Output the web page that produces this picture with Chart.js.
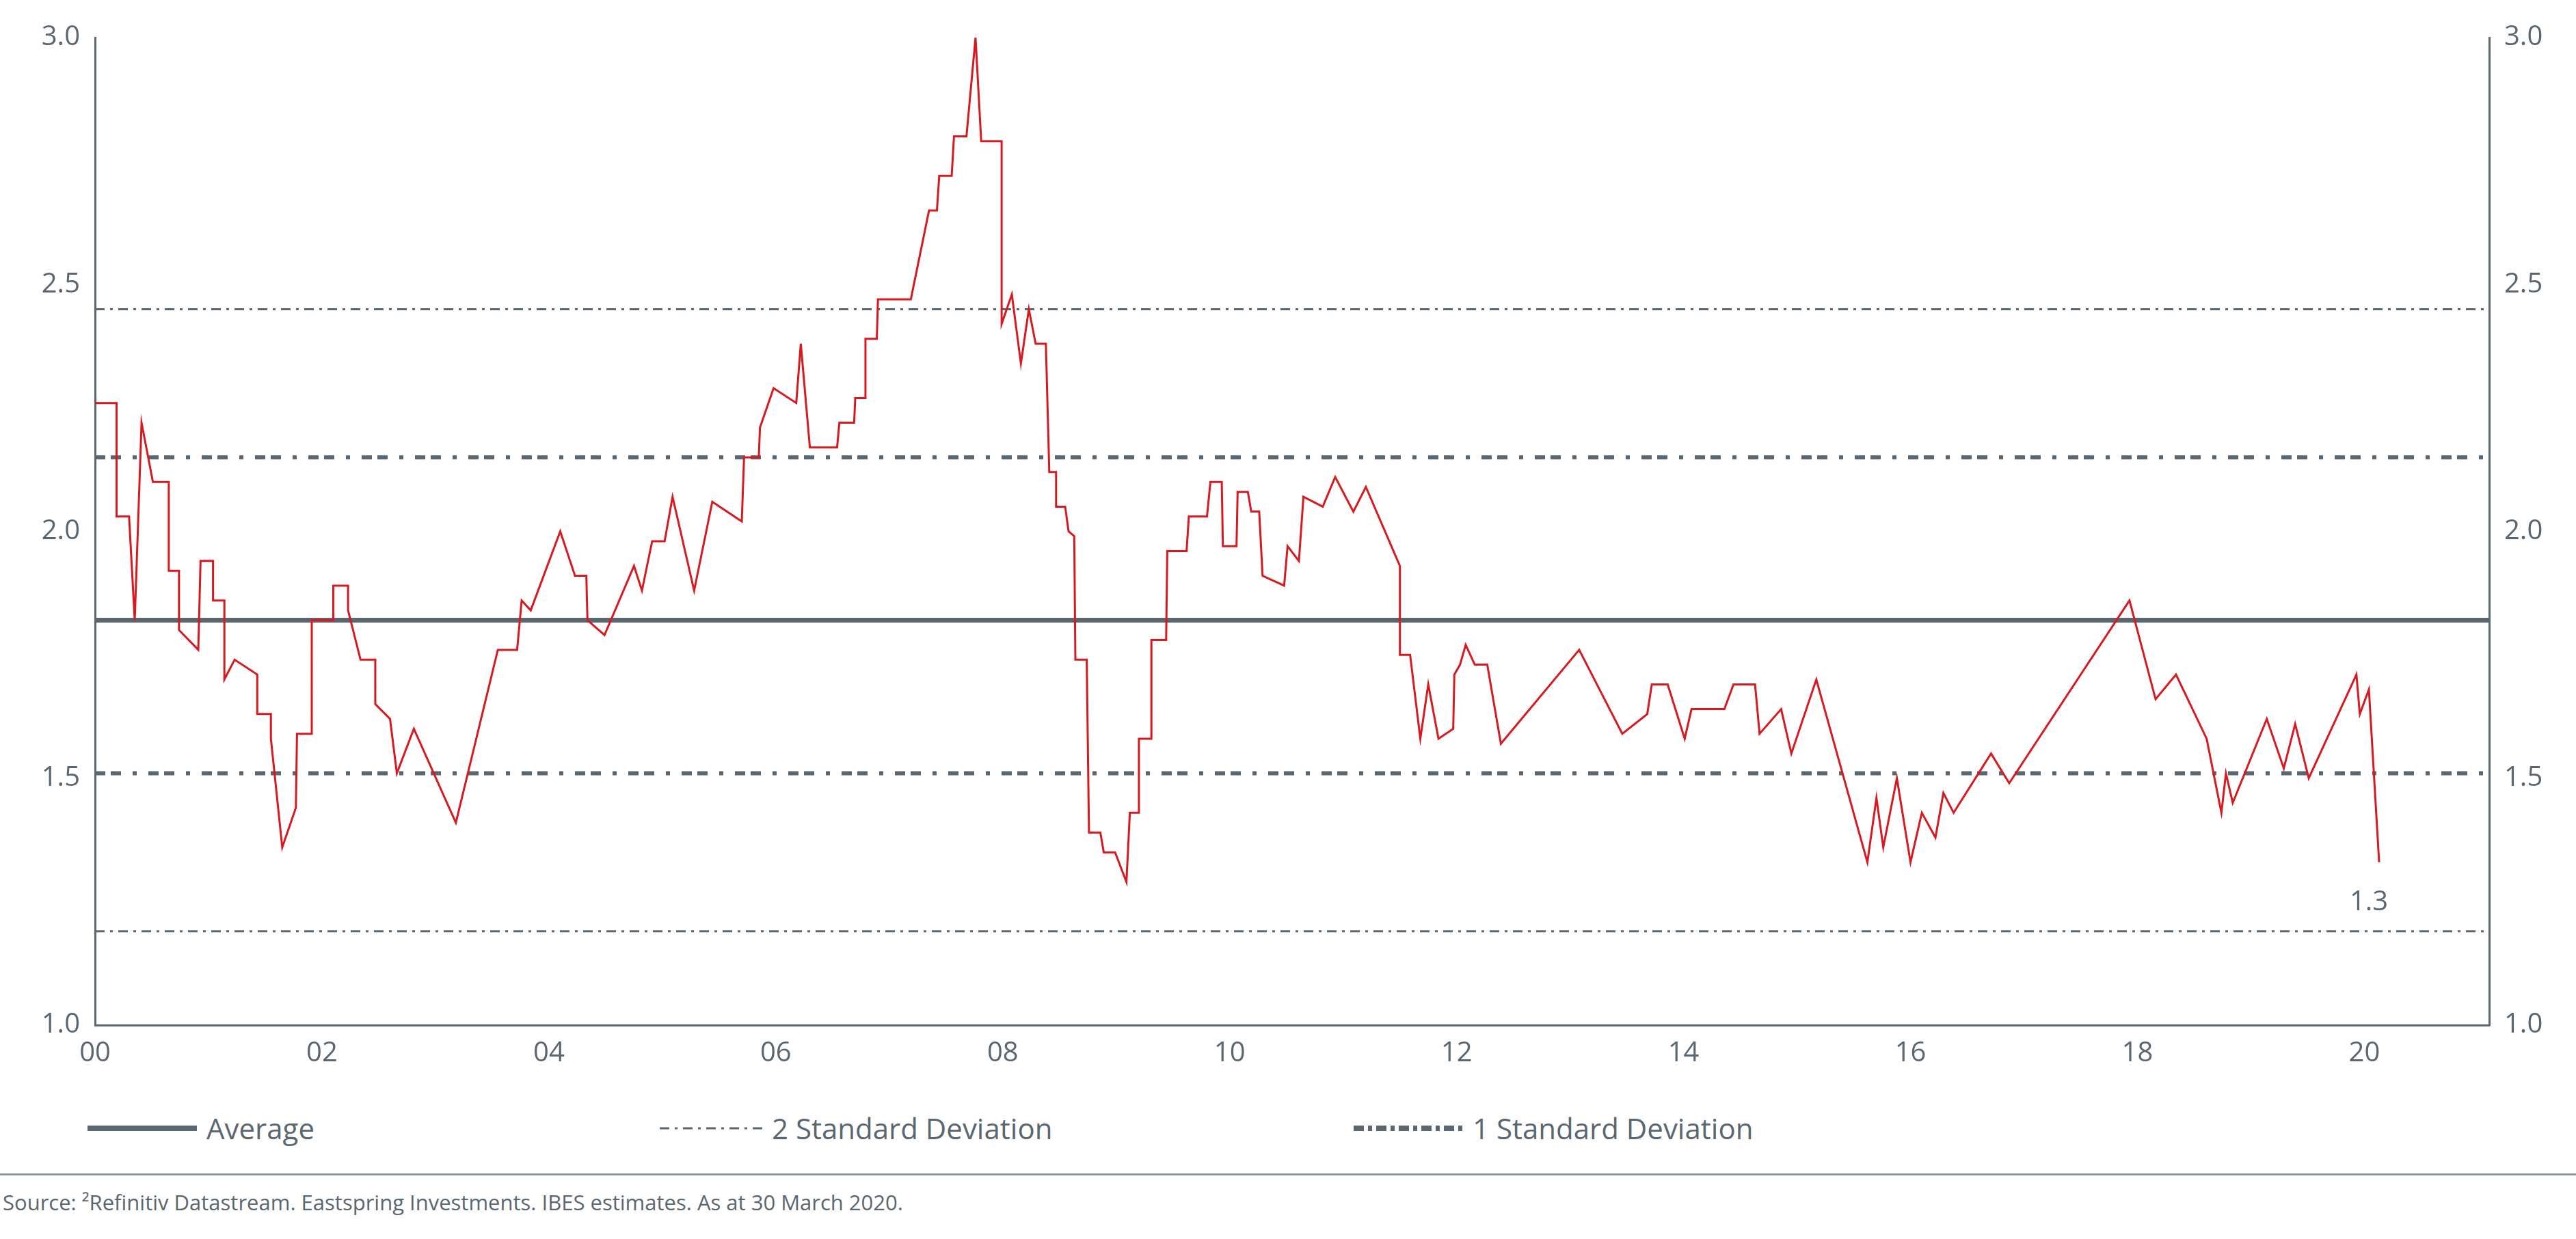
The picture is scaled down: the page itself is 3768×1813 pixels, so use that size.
<!DOCTYPE html>
<html>
<head>
<meta charset="utf-8">
<script src="https://cdn.jsdelivr.net/npm/chart.js@4"></script>
<style>
  body { margin: 0; background: #fff; font-family: 'Open Sans', sans-serif; color: #5b6770; }
  #wrap { position: absolute; left: 0; top: 0; width: 3768px; height: 1600px; }
  .leg { position: absolute; top: 1622px; font-size: 42px; display: flex; align-items: center; }
  .leg canvas { margin-right: 14px; }
  #rule { position: absolute; left: 0; top: 1717px; width: 3768px; height: 3px; background: #8f9aa2; }
  #src { position: absolute; left: 4px; top: 1738px; font-size: 31px; }
</style>
</head>
<body>
<div id="wrap"><canvas id="peChart"></canvas></div>
<div class="leg" style="left:128px"><canvas id="l1" width="160" height="20"></canvas>Average</div>
<div class="leg" style="left:965px"><canvas id="l2" width="150" height="20"></canvas>2 Standard Deviation</div>
<div class="leg" style="left:1980px"><canvas id="l3" width="160" height="20"></canvas>1 Standard Deviation</div>
<div id="rule"></div>
<div id="src">Source: ²Refinitiv Datastream. Eastspring Investments. IBES estimates. As at 30 March 2020.</div>
<script>
// года (00 = 2000) и значения P/B
const years = [0.00,0.19,0.19,0.30,0.35,0.41,0.51,0.65,0.65,0.74,0.74,0.91,0.93,1.04,1.04,1.14,1.14,1.23,1.43,1.43,1.55,1.55,1.65,1.77,1.78,1.91,1.91,2.10,2.10,2.23,2.23,2.34,2.47,2.47,2.60,2.66,2.81,3.18,3.55,3.72,3.76,3.84,4.10,4.23,4.33,4.34,4.49,4.75,4.82,4.91,5.02,5.09,5.28,5.44,5.70,5.72,5.85,5.86,5.98,6.18,6.22,6.30,6.54,6.56,6.69,6.70,6.79,6.79,6.89,6.90,7.19,7.35,7.42,7.44,7.55,7.57,7.68,7.76,7.81,7.99,7.99,8.08,8.16,8.23,8.29,8.38,8.41,8.47,8.47,8.55,8.58,8.63,8.64,8.74,8.76,8.86,8.89,8.99,9.09,9.12,9.20,9.20,9.31,9.31,9.44,9.45,9.62,9.64,9.80,9.83,9.93,9.94,10.06,10.07,10.16,10.19,10.26,10.29,10.48,10.51,10.61,10.65,10.82,10.93,11.09,11.20,11.50,11.50,11.59,11.68,11.75,11.84,11.97,11.98,12.03,12.08,12.16,12.27,12.39,13.08,13.46,13.68,13.72,13.86,14.01,14.07,14.36,14.44,14.63,14.67,14.86,14.95,15.17,15.62,15.70,15.76,15.88,16.00,16.10,16.22,16.29,16.38,16.71,16.87,17.93,18.16,18.34,18.61,18.74,18.78,18.84,19.14,19.29,19.39,19.51,19.93,19.96,20.04,20.13];
const values = [2.26,2.26,2.03,2.03,1.82,2.22,2.10,2.10,1.92,1.92,1.80,1.76,1.94,1.94,1.86,1.86,1.70,1.74,1.71,1.63,1.63,1.58,1.36,1.44,1.59,1.59,1.82,1.82,1.89,1.89,1.84,1.74,1.74,1.65,1.62,1.51,1.60,1.41,1.76,1.76,1.86,1.84,2.00,1.91,1.91,1.82,1.79,1.93,1.88,1.98,1.98,2.07,1.88,2.06,2.02,2.15,2.15,2.21,2.29,2.26,2.38,2.17,2.17,2.22,2.22,2.27,2.27,2.39,2.39,2.47,2.47,2.65,2.65,2.72,2.72,2.80,2.80,3.00,2.79,2.79,2.42,2.48,2.34,2.45,2.38,2.38,2.12,2.12,2.05,2.05,2.00,1.99,1.74,1.74,1.39,1.39,1.35,1.35,1.29,1.43,1.43,1.58,1.58,1.78,1.78,1.96,1.96,2.03,2.03,2.10,2.10,1.97,1.97,2.08,2.08,2.04,2.04,1.91,1.89,1.97,1.94,2.07,2.05,2.11,2.04,2.09,1.93,1.75,1.75,1.58,1.69,1.58,1.60,1.71,1.73,1.77,1.73,1.73,1.57,1.76,1.59,1.63,1.69,1.69,1.58,1.64,1.64,1.69,1.69,1.59,1.64,1.55,1.70,1.33,1.46,1.36,1.50,1.33,1.43,1.38,1.47,1.43,1.55,1.49,1.86,1.66,1.71,1.58,1.43,1.51,1.45,1.62,1.52,1.61,1.50,1.71,1.63,1.68,1.33];
const average = 1.82;
const sd1 = [2.15, 1.51];
const sd2 = [2.45, 1.19];
const xTicks = ['00','02','04','06','08','10','12','14','16','18','20'];
const yTicks = [1.0, 1.5, 2.0, 2.5, 3.0];
const lastLabel = '1.3';

const grey = '#5b6770';
const red = '#d71920';
const dash1 = [15, 8, 15, 17, 6, 17];
const dash2 = [14, 8, 4, 8];

function hline(y, width, dash, label) {
    return { label: label, data: [{x: 0, y: y}, {x: 21.1, y: y}], borderColor: grey,
             borderWidth: width, borderDash: dash, pointRadius: 0, order: 2 };
}

const points = years.map((x, i) => ({x: x, y: values[i]}));

const lastLabelPlugin = {
    id: 'lastLabel',
    afterDatasetsDraw(chart) {
        const ctx = chart.ctx;
        const x = chart.scales.x.getPixelForValue(years[years.length - 1]);
        const y = chart.scales.y.getPixelForValue(values[values.length - 1]);
        ctx.save();
        ctx.fillStyle = grey;
        ctx.font = '40px "Open Sans"';
        ctx.textAlign = 'center';
        ctx.fillText(lastLabel, x - 15, y + 70);
        ctx.restore();
    }
};

const tickFont = { family: 'Open Sans', size: 40 };

new Chart(document.getElementById('peChart'), {
    type: 'line',
    data: {
        datasets: [
            { label: 'P/B', data: points, borderColor: red, borderWidth: 3, pointRadius: 0, tension: 0, order: 1 },
            hline(average, 7, [], 'Average'),
            hline(sd1[0], 6, dash1, '1 SD'),
            hline(sd1[1], 6, dash1, '1 SD'),
            hline(sd2[0], 3, dash2, '2 SD'),
            hline(sd2[1], 3, dash2, '2 SD')
        ]
    },
    options: {
        responsive: true,
        maintainAspectRatio: false,
        animation: false,
        layout: { padding: { top: 55, bottom: 40, left: 0, right: 0 } },
        plugins: { legend: { display: false }, tooltip: { enabled: false } },
        scales: {
            x: {
                type: 'linear', min: 0, max: 21.1,
                afterBuildTicks: (s) => { s.ticks = xTicks.map((t, i) => ({value: i * 2})); },
                ticks: { color: grey, font: tickFont, callback: (v) => xTicks[v / 2], padding: 4, maxRotation: 0 },
                grid: { display: false, drawTicks: true, tickLength: 14, tickColor: grey, tickWidth: 3 },
                border: { color: grey, width: 3 },
                afterFit: (s) => { s.height = 60; }
            },
            y: {
                position: 'left', min: 1, max: 3,
                afterBuildTicks: (s) => { s.ticks = yTicks.map(v => ({value: v})); },
                ticks: { color: grey, font: tickFont, callback: (v) => v.toFixed(1), padding: 8 },
                grid: { display: false, drawTicks: true, tickLength: 14, tickColor: grey, tickWidth: 3 },
                border: { color: grey, width: 3 },
                afterFit: (s) => { s.width = 139; }
            },
            y2: {
                position: 'right', min: 1, max: 3,
                afterBuildTicks: (s) => { s.ticks = yTicks.map(v => ({value: v})); },
                ticks: { color: grey, font: tickFont, callback: (v) => v.toFixed(1), padding: 8 },
                grid: { display: false, drawTicks: true, tickLength: 14, tickColor: grey, tickWidth: 3 },
                border: { color: grey, width: 3 },
                afterFit: (s) => { s.width = 127; }
            }
        }
    },
    plugins: [lastLabelPlugin]
});

// маленькие образцы линий для легенды
function sample(id, width, dash) {
    const c = document.getElementById(id).getContext('2d');
    c.strokeStyle = grey;
    c.lineWidth = width;
    c.setLineDash(dash);
    c.beginPath();
    c.moveTo(0, 10);
    c.lineTo(c.canvas.width, 10);
    c.stroke();
}
sample('l1', 8, []);
sample('l2', 3, dash2);
sample('l3', 8, [15, 6, 6, 6]);
</script>
</body>
</html>
